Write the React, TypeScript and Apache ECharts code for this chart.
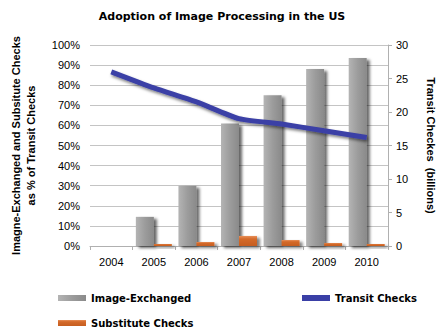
import React, { useEffect, useRef } from "react";
import * as echarts from "echarts";

const years = ["2004", "2005", "2006", "2007", "2008", "2009", "2010"];
const imageExchanged = [0, 14.5, 30, 61, 75, 88, 93.5];
const substituteChecks = [0, 1, 2, 5, 3, 1.5, 1];
const transitChecks = [26, 23.6, 21.5, 19, 18.2, 17.2, 16.2];

export default function App() {
  const ref = useRef<HTMLDivElement>(null);
  useEffect(() => {
    const chart = echarts.init(ref.current!, null, { renderer: "svg" });
    const tickFont = { fontFamily: "Liberation Sans, Arial, sans-serif", fontSize: 11, color: "#000" };
    const boldFont = { fontFamily: "DejaVu Sans, Verdana, sans-serif", fontSize: 10, fontWeight: "bold" as const, color: "#000" };
    const legendBase = {
      itemWidth: 28,
      itemHeight: 6,
      itemGap: 6,
      textStyle: { ...boldFont },
      selectedMode: false,
    };
    chart.setOption({
      animation: false,
      backgroundColor: "#fff",
      title: {
        text: "Adoption of Image Processing in the US",
        left: "center",
        top: 6,
        textStyle: { ...boldFont, fontSize: 11 },
      },
      legend: [
        { ...legendBase, left: 53, top: 288, data: [{ name: "Image-Exchanged", icon: "rect" }] },
        { ...legendBase, left: 297, top: 288, data: [{ name: "Transit Checks", icon: "rect" }] },
        { ...legendBase, left: 53, top: 313, data: [{ name: "Substitute Checks", icon: "rect" }] },
      ],
      grid: { left: 77, right: 51, top: 45, bottom: 85 },
      xAxis: {
        type: "category",
        data: years,
        axisLine: { lineStyle: { color: "#b0b0b0" } },
        axisTick: { show: true, length: 4, lineStyle: { color: "#b0b0b0" } },
        axisLabel: { ...tickFont, margin: 10 },
      },
      yAxis: [
        {
          type: "value",
          min: 0,
          max: 100,
          interval: 10,
          axisLabel: { ...tickFont, formatter: "{value}%", margin: 10 },
          axisLine: { show: false },
          axisTick: { show: false },
          splitLine: { lineStyle: { color: "#c4c4c4" } },
          name: "Imagne-Exchanged and Subsitute Checks\nas % of Transit Checks",
          nameLocation: "middle",
          nameRotate: 90,
          nameGap: 52,
          nameTextStyle: { fontFamily: "Liberation Sans, Arial, sans-serif", fontSize: 11, fontWeight: "bold", color: "#000", lineHeight: 15 },
        },
        {
          type: "value",
          min: 0,
          max: 30,
          interval: 5,
          position: "right",
          axisLabel: { ...tickFont, margin: 8 },
          axisLine: { show: true, lineStyle: { color: "#b0b0b0" } },
          axisTick: { show: true, length: 4, lineStyle: { color: "#b0b0b0" } },
          splitLine: { show: false },
          name: "Transit Checkes  (billions)",
          nameLocation: "middle",
          nameRotate: -90,
          nameGap: 37,
          nameTextStyle: { fontFamily: "Liberation Sans, Arial, sans-serif", fontSize: 11, fontWeight: "bold", color: "#000" },
        },
      ],
      series: [
        {
          name: "Image-Exchanged",
          type: "bar",
          data: imageExchanged,
          barWidth: 18,
          barGap: "0%",
          itemStyle: {
            color: new echarts.graphic.LinearGradient(0, 0, 1, 0, [
              { offset: 0, color: "#b4b4b4" },
              { offset: 0.5, color: "#9c9c9c" },
              { offset: 1, color: "#8a8a8a" },
            ]),
            shadowColor: "rgba(0,0,0,0.6)",
            shadowOffsetX: 3,
            shadowOffsetY: 2,
            shadowBlur: 3,
          },
        },
        {
          name: "Substitute Checks",
          type: "bar",
          data: substituteChecks,
          barWidth: 18,
          itemStyle: {
            color: new echarts.graphic.LinearGradient(0, 0, 0, 1, [
              { offset: 0, color: "#e8905a" },
              { offset: 0.3, color: "#d46a2a" },
              { offset: 1, color: "#c65e20" },
            ]),
            shadowColor: "rgba(0,0,0,0.5)",
            shadowOffsetX: 3,
            shadowOffsetY: 2,
            shadowBlur: 3,
          },
        },
        {
          name: "Transit Checks",
          type: "line",
          yAxisIndex: 1,
          data: transitChecks,
          smooth: 0.2,
          showSymbol: false,
          symbol: "none",
          itemStyle: { color: "#3a3fa6" },
          lineStyle: {
            width: 5,
            color: "#3a3fa6",
            shadowColor: "rgba(0,0,0,0.5)",
            shadowOffsetX: 1,
            shadowOffsetY: 2,
            shadowBlur: 3,
          },
          z: 5,
        },
      ],
    });
    return () => chart.dispose();
  }, []);
  return <div ref={ref} style={{ width: 444, height: 331, position: "absolute", left: 0, top: 0 }} />;
}
